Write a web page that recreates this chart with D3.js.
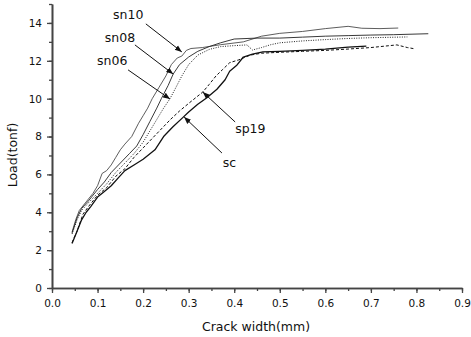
<!DOCTYPE html>
<html><head><meta charset="utf-8">
<script src="https://cdn.jsdelivr.net/npm/d3@7"></script>
<style>body{margin:0;background:#fff}svg{display:block}text{font-family:"DejaVu Sans",sans-serif;fill:#111}</style>
</head><body><svg id="c" width="471" height="337"></svg>
<script>
const xTicks=[0,0.1,0.2,0.3,0.4,0.5,0.6,0.7,0.8,0.9];
const yTicks=[0,2,4,6,8,10,12,14];
const seriesNames=["sn10","sn08","sn06","sp19","sc"];
const sn10=[[0.044,2.95],[0.052,3.6],[0.06,4.1],[0.075,4.55],[0.09,5.0],[0.1,5.4],[0.11,6.05],[0.12,6.2],[0.13,6.5],[0.14,6.9],[0.15,7.3],[0.16,7.6],[0.175,8.0],[0.19,8.7],[0.2,9.1],[0.21,9.5],[0.22,10.0],[0.235,10.6],[0.25,11.2],[0.262,11.8],[0.275,12.15],[0.285,12.25],[0.295,12.55],[0.305,12.65],[0.33,12.7],[0.37,12.85],[0.42,13.0],[0.46,13.3],[0.5,13.45],[0.55,13.55],[0.6,13.7],[0.65,13.82],[0.68,13.72],[0.72,13.7],[0.76,13.73]];
const sn08=[[0.044,2.9],[0.055,3.7],[0.065,4.2],[0.08,4.6],[0.1,5.2],[0.115,5.6],[0.13,6.1],[0.15,6.6],[0.17,7.1],[0.186,7.5],[0.2,8.1],[0.215,8.8],[0.23,9.5],[0.24,10.0],[0.255,10.7],[0.266,11.3],[0.28,11.8],[0.3,12.2],[0.32,12.5],[0.345,12.75],[0.37,12.95],[0.4,13.15],[0.45,13.2],[0.5,13.2],[0.55,13.25],[0.6,13.3],[0.65,13.33],[0.7,13.36],[0.75,13.38],[0.826,13.43]];
const sn06=[[0.044,2.85],[0.055,3.6],[0.065,4.1],[0.08,4.5],[0.1,5.0],[0.12,5.5],[0.14,6.1],[0.16,6.6],[0.18,7.1],[0.2,7.7],[0.215,8.3],[0.23,8.9],[0.245,9.5],[0.259,10.0],[0.27,10.5],[0.285,11.2],[0.3,11.8],[0.32,12.3],[0.345,12.6],[0.37,12.75],[0.4,12.8],[0.428,12.84],[0.44,12.57],[0.46,12.7],[0.48,12.85],[0.5,12.95],[0.55,13.05],[0.6,13.12],[0.65,13.18],[0.7,13.22],[0.78,13.26]];
const sp19=[[0.044,2.4],[0.055,3.0],[0.068,3.9],[0.08,4.3],[0.1,4.9],[0.12,5.3],[0.14,5.9],[0.16,6.3],[0.18,6.9],[0.2,7.4],[0.22,7.9],[0.24,8.4],[0.26,8.9],[0.28,9.35],[0.3,9.75],[0.318,10.1],[0.331,10.35],[0.345,10.75],[0.36,11.2],[0.375,11.55],[0.39,11.9],[0.41,12.05],[0.435,12.3],[0.46,12.4],[0.5,12.45],[0.55,12.5],[0.6,12.55],[0.65,12.62],[0.7,12.7],[0.757,12.84],[0.78,12.7],[0.797,12.63]];
const sc=[[0.044,2.35],[0.055,3.0],[0.065,3.6],[0.075,4.0],[0.085,4.3],[0.1,4.8],[0.115,5.1],[0.13,5.4],[0.145,5.8],[0.16,6.2],[0.18,6.5],[0.2,6.8],[0.226,7.3],[0.245,8.0],[0.265,8.5],[0.287,9.0],[0.3,9.3],[0.32,9.7],[0.34,10.05],[0.362,10.5],[0.38,11.0],[0.39,11.45],[0.405,11.75],[0.42,12.2],[0.44,12.35],[0.463,12.47],[0.5,12.5],[0.55,12.55],[0.6,12.62],[0.65,12.72],[0.69,12.78]];
// annotation: label, text anchor (x,y), arrow from (x,y) to (x,y) in data units
const labels=["sn10","sn08","sn06","sp19","sc"];
const labelPos=[[0.134,14.21],[0.116,13.0],[0.099,11.78],[0.402,8.19],[0.375,6.39]];
const arrowFrom=[[0.206,13.95],[0.182,12.84],[0.167,11.52],[0.402,8.77],[0.373,7.13]];
const arrowTo=[[0.285,12.47],[0.266,11.3],[0.259,9.98],[0.331,10.35],[0.29,9.03]];

const svg=d3.select("#c");
const x=d3.scaleLinear().domain([0,0.9]).range([52,462]);
const y=d3.scaleLinear().domain([0,15]).range([288,4]);
const axisColor="#444";

svg.append("defs").append("marker").attr("id","ah").attr("viewBox","0 0 10 10")
 .attr("refX",10).attr("refY",5).attr("markerWidth",7).attr("markerHeight",7)
 .attr("markerUnits","userSpaceOnUse").attr("orient","auto")
 .append("path").attr("d","M0,1 L10,5 L0,9 Z").attr("fill","#111");

// minor ticks
const gxm=svg.append("g").attr("transform","translate(0,288)")
 .call(d3.axisBottom(x).tickValues(d3.range(0,0.9001,0.05)).tickSize(3).tickFormat("").tickSizeOuter(0));
const gym=svg.append("g").attr("transform","translate(52,0)")
 .call(d3.axisLeft(y).tickValues(d3.range(0,15.001,1)).tickSize(3).tickFormat("").tickSizeOuter(0));
const gx=svg.append("g").attr("transform","translate(0,288)")
 .call(d3.axisBottom(x).tickValues(xTicks).tickSize(5).tickPadding(7).tickFormat(d3.format(".1f")).tickSizeOuter(0));
const gy=svg.append("g").attr("transform","translate(52,0)")
 .call(d3.axisLeft(y).tickValues(yTicks).tickSize(5).tickPadding(5).tickFormat(d3.format("d")).tickSizeOuter(0));
[gxm,gym,gx,gy].forEach(g=>{
  g.selectAll(".domain").attr("stroke",axisColor).attr("stroke-width",1.6);
  g.selectAll(".tick line").attr("stroke",axisColor).attr("stroke-width",1.3);
  g.selectAll("text").attr("font-family","DejaVu Sans").attr("font-size",10.5).attr("fill","#222");
});

svg.append("text").attr("x",256).attr("y",331).attr("text-anchor","middle").attr("font-size",12.5).text("Crack width(mm)");
svg.append("text").attr("transform","translate(17,155) rotate(-90)").attr("text-anchor","middle").attr("font-size",12.5).text("Load(tonf)");

const line=d3.line().x(d=>x(d[0])).y(d=>y(d[1]));
const data=[sn10,sn08,sn06,sp19,sc];
const styles=[
 {w:0.8,dash:null,c:"#333"},
 {w:0.9,dash:null,c:"#222"},
 {w:1.0,dash:"1,1.4",c:"#222"},
 {w:1.0,dash:"3,2",c:"#111"},
 {w:1.3,dash:null,c:"#111"}];
data.forEach((d,i)=>{
  svg.append("path").datum(d).attr("d",line).attr("fill","none")
   .attr("stroke",styles[i].c).attr("stroke-width",styles[i].w)
   .attr("stroke-dasharray",styles[i].dash).attr("stroke-linejoin","round");
});

labels.forEach((t,i)=>{
  svg.append("text").attr("x",x(labelPos[i][0])).attr("y",y(labelPos[i][1])).attr("font-size",12.5).text(t);
  svg.append("line").attr("x1",x(arrowFrom[i][0])).attr("y1",y(arrowFrom[i][1]))
   .attr("x2",x(arrowTo[i][0])).attr("y2",y(arrowTo[i][1]))
   .attr("stroke","#111").attr("stroke-width",1).attr("marker-end","url(#ah)");
});
</script></body></html>
